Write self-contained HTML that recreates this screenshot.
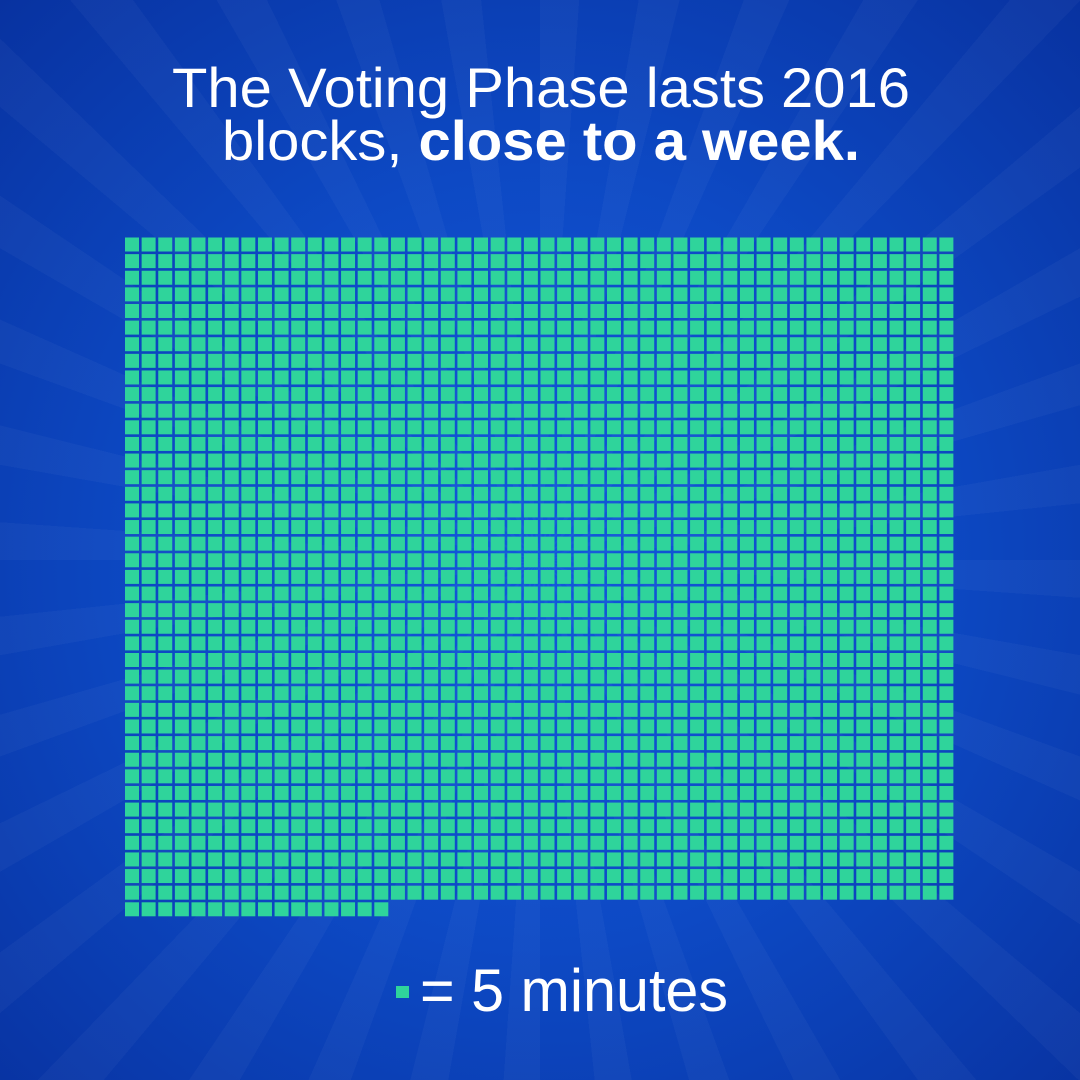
<!DOCTYPE html>
<html><head><meta charset="utf-8"><style>
html,body{margin:0;padding:0;width:1080px;height:1080px;overflow:hidden}
#bg{position:absolute;left:0;top:0;width:1080px;height:1080px;
background:repeating-conic-gradient(from 0deg at 540px 560px, rgba(255,255,255,0.03) 0deg 4deg, rgba(255,255,255,0) 4deg 10deg),
radial-gradient(circle 780px at 540px 560px, #1258dc 0%, #0d49c4 50%, #0832a0 100%);}
svg{display:block;overflow:hidden;position:absolute;left:0;top:0}
</style></head><body>
<div id="bg"></div>
<svg id="chart" width="1080" height="1080" viewBox="0 0 1080 1080" xmlns="http://www.w3.org/2000/svg">
<text x="541" y="107" text-anchor="middle" font-family="Liberation Sans, sans-serif" font-size="56" fill="#fff" textLength="738" lengthAdjust="spacingAndGlyphs">The Voting Phase lasts 2016</text>
<text x="541" y="160" text-anchor="middle" font-family="Liberation Sans, sans-serif" font-size="56" fill="#fff" textLength="638" lengthAdjust="spacingAndGlyphs">blocks, <tspan font-weight="bold">close to a week.</tspan></text>
<g id="grid"></g>
<rect x="396" y="986" width="13" height="12" fill="#2fd49b"/>
<text x="420" y="1011" font-family="Liberation Sans, sans-serif" font-size="60" fill="#fff" textLength="308" lengthAdjust="spacingAndGlyphs">= 5 minutes</text>
</svg>
<script>
const totalBlocks = 2016;
const columns = 50;
const ns = "http://www.w3.org/2000/svg";
const grid = document.getElementById('grid');
const x0 = 125, y0 = 237.5, pitch = 16.62, size = 14;
for (let i = 0; i < totalBlocks; i++) {
  const c = i % columns, r = Math.floor(i / columns);
  const rc = document.createElementNS(ns, 'rect');
  rc.setAttribute('x', (x0 + c * pitch).toFixed(2));
  rc.setAttribute('y', (y0 + r * pitch).toFixed(2));
  rc.setAttribute('width', size);
  rc.setAttribute('height', size);
  rc.setAttribute('fill', '#2fd49b');
  
  
  grid.appendChild(rc);
}
</script>
</body></html>
